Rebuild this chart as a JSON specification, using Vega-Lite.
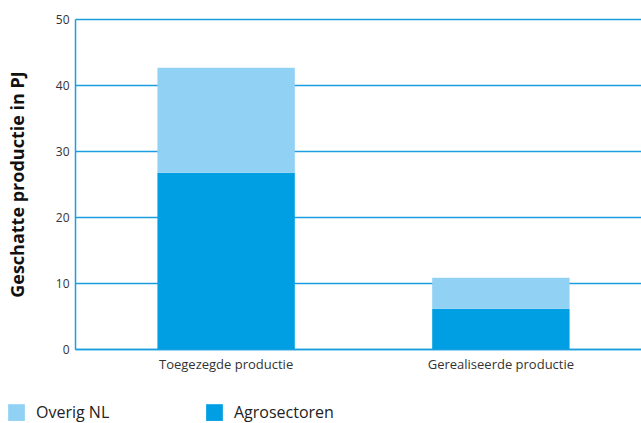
{
  "$schema": "https://vega.github.io/schema/vega-lite/v6.json",
  "width": 566,
  "height": 330,
  "autosize": {"type": "none"},
  "padding": {"left": 75, "top": 19, "right": 0, "bottom": 74},
  "background": "white",
  "data": {"values": [
    {"cat": "Toegezegde productie", "serie": "Agrosectoren", "volgorde": 1, "waarde": 26.7},
    {"cat": "Toegezegde productie", "serie": "Overig NL", "volgorde": 2, "waarde": 15.9},
    {"cat": "Gerealiseerde productie", "serie": "Agrosectoren", "volgorde": 1, "waarde": 6.1},
    {"cat": "Gerealiseerde productie", "serie": "Overig NL", "volgorde": 2, "waarde": 4.7}
  ]},
  "mark": {"type": "bar"},
  "encoding": {
    "x": {
      "field": "cat", "type": "nominal", "sort": ["Toegezegde productie", "Gerealiseerde productie"],
      "scale": {"paddingInner": 0.5, "paddingOuter": 0.3, "range": [0, 577]},
      "axis": {"title": null, "labelAngle": 0, "ticks": false, "domainColor": "#1a9ee0", "domainWidth": 1.5, "labelFont": "Open Sans", "labelFontSize": 13, "labelColor": "#333333", "labelPadding": 9}
    },
    "y": {
      "field": "waarde", "type": "quantitative", "stack": "zero",
      "scale": {"domain": [0, 50]},
      "axis": {"values": [0, 10, 20, 30, 40, 50], "title": "Geschatte productie in PJ", "titleFont": "Open Sans", "titleFontSize": 18, "titleFontWeight": "bold", "titleColor": "#111111", "titlePadding": 28, "ticks": false, "grid": true, "gridColor": "#1a9ee0", "gridOpacity": 1, "gridWidth": 1.5, "domainColor": "#1a9ee0", "domainWidth": 1.5, "labelFont": "Open Sans", "labelFontSize": 12, "labelColor": "#333333", "labelPadding": 6}
    },
    "color": {
      "field": "serie", "type": "nominal",
      "scale": {"domain": ["Overig NL", "Agrosectoren"], "range": ["#91d1f4", "#009fe3"]},
      "legend": {"title": null, "orient": "none", "legendX": -67, "legendY": 385, "direction": "horizontal", "symbolType": "square", "symbolSize": 280, "symbolStrokeWidth": 0, "symbolOpacity": 1, "labelFont": "Open Sans", "labelFontSize": 16, "labelColor": "#222222", "labelOffset": 11, "columnPadding": 96, "labelLimit": 200}
    },
    "order": {"field": "volgorde", "type": "quantitative"}
  },
  "config": {"view": {"stroke": null}, "axisY": {"gridColor": "#1a9ee0"}}
}
